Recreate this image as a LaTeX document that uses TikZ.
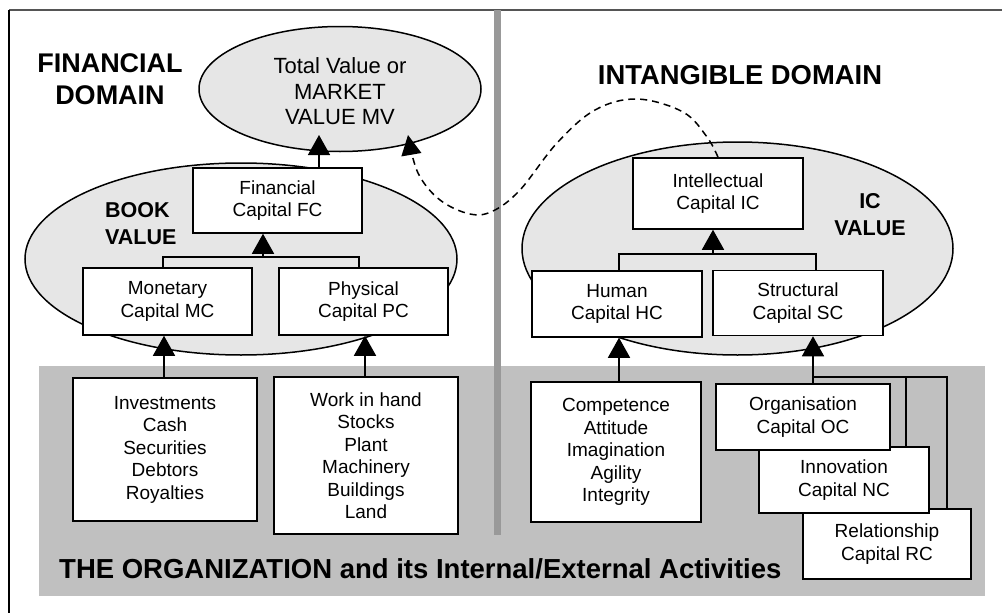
\documentclass[tikz,border=0pt]{standalone}
\usepackage{fontspec}
\setmainfont{Liberation Sans}
\usetikzlibrary{arrows.meta,shapes.geometric}
\definecolor{ovalgray}{HTML}{E6E6E6}
\definecolor{bandgray}{HTML}{C0C0C0}
\definecolor{divgray}{HTML}{999999}
\definecolor{framegray}{HTML}{555555}
\begin{document}
\begin{tikzpicture}[x=1pt,y=-1pt,
 box/.style={draw, line width=1.5pt, fill=white, inner sep=0pt, align=center, font=\fontsize{19}{22.5}\selectfont},
 oval/.style={ellipse, draw, line width=1.5pt, fill=ovalgray, inner sep=0pt},
 conn/.style={line width=1.5pt},
 arr/.style={line width=1.5pt, -{Triangle[width=22pt,length=20pt]}},
 title/.style={font=\fontsize{27}{32}\bfseries\selectfont, align=center, inner sep=0pt},
 sub/.style={font=\fontsize{21.5}{27}\bfseries\selectfont, inner sep=0pt}]
\useasboundingbox (0,0) rectangle (1002,613);
\fill[white] (0,0) rectangle (1002,613);
% frame
\coordinate (fTL) at (9,10); \coordinate (fTR) at (1002,10); \coordinate (fBL) at (9,613);
\draw[line width=2pt, framegray] (fTL) -- (fTR);
\draw[line width=2pt, black] (fTL) -- (fBL);
% band
\node[fill=bandgray, minimum width=946pt, minimum height=230pt, inner sep=0pt] (band) at (512,481) {};
% divider
\coordinate (dTop) at (497,10); \coordinate (dBot) at (497,535);
\draw[line width=7pt, divgray] (dTop) -- (dBot);
% ovals
\node[oval, minimum width=282pt, minimum height=125pt] (MV) at (340,89) {};
\node[oval, minimum width=432pt, minimum height=192pt] (BV) at (241,259) {};
\node[oval, minimum width=431pt, minimum height=213pt] (ICV) at (737.5,248.5) {};
\node[align=center, inner sep=0pt, font=\fontsize{22}{25.5}\selectfont] (mvtext) at (340,91.3) {Total Value or\\MARKET\\VALUE MV};
% titles
\node[title] (fd) at (110,79) {FINANCIAL\\DOMAIN};
\node[title, font=\fontsize{27.4}{32}\bfseries\selectfont] (id) at (740,75) {INTANGIBLE DOMAIN};
\node[sub, align=left, anchor=west] (bvl) at (105,223.5) {BOOK\\VALUE};
\node[sub, align=center] (icvl) at (870,215) {IC\\VALUE};
\node[font=\fontsize{27.5}{32}\bfseries\selectfont, anchor=base west, inner sep=0pt] (orgl) at (59,578) {THE ORGANIZATION and its Internal/External Activities};
% boxes
\node[box, minimum width=169pt, minimum height=65pt] (FC) at (277.5,200.5) {Financial\\Capital FC};
\node[box, minimum width=169pt, minimum height=67pt] (MC) at (167.5,301.5) {Monetary\\Capital MC};
\node[box, minimum width=169pt, minimum height=67pt] (PC) at (363.5,301.5) {Physical\\Capital PC};
\node[box, minimum width=184pt, minimum height=143pt] (Inv) at (165,449.5) {Investments\\Cash\\Securities\\Debtors\\Royalties};
\node[box, minimum width=184pt, minimum height=157pt] (Work) at (366,455.5) {Work in hand\\Stocks\\Plant\\Machinery\\Buildings\\Land};
\node[box, minimum width=170pt, minimum height=71pt] (IC) at (718,193.5) {Intellectual\\Capital IC};
\node[box, minimum width=170pt, minimum height=66pt] (HC) at (617,304) {Human\\Capital HC};
\node[box, minimum width=170pt, minimum height=65pt] (SC) at (798,303) {Structural\\Capital SC};
\node[box, minimum width=170pt, minimum height=140pt] (Comp) at (616,452) {Competence\\Attitude\\Imagination\\Agility\\Integrity};
\node[box, minimum width=168pt, minimum height=70pt] (Rel) at (887,544) {Relationship\\Capital RC};
\node[box, minimum width=170pt, minimum height=66pt] (Inn) at (844,480) {Innovation\\Capital NC};
\node[box, minimum width=174pt, minimum height=66pt] (Org) at (803,417) {Organisation\\Capital OC};
% left tree
\coordinate (tL1) at (163,257); \coordinate (tL2) at (359,257); \coordinate (tLm) at (263,257);
\draw[conn] (MC.north -| tL1) -- (tL1) -- (tL2) -- (PC.north -| tL2);
\draw[arr] (tLm) -- (FC.south -| tLm);
\coordinate (mvin) at (319,135);
\draw[arr] (FC.north -| mvin) -- (mvin);
\coordinate (xMC) at (164,0); \coordinate (xPC) at (365,0);
\draw[arr] (Inv.north -| xMC) -- (MC.south -| xMC);
\draw[arr] (Work.north -| xPC) -- (PC.south -| xPC);
% right tree
\coordinate (tR1) at (619,254); \coordinate (tR2) at (816,254); \coordinate (tRm) at (713,254);
\draw[conn] (HC.north -| tR1) -- (tR1) -- (tR2) -- (SC.north -| tR2);
\draw[arr] (tRm) -- (IC.south -| tRm);
\coordinate (xHC) at (619,0);
\draw[arr] (Comp.north -| xHC) -- (HC.south -| xHC);
\coordinate (sJ) at (813,377); \coordinate (sJ2) at (906,377); \coordinate (sJ3) at (947,377);
\draw[conn] (Inn.north -| sJ2) -- (sJ2);
\draw[conn] (Rel.north -| sJ3) -- (sJ3) -- (sJ);
\draw[arr] (Org.north -| sJ) -- (SC.south -| sJ);
% dashed link
\coordinate (mvdash) at (408,135);
\draw[line width=1.5pt, dash pattern=on 7pt off 5pt, -{Triangle[width=20pt,length=20pt]}]
  plot[smooth, tension=0.6] coordinates {(IC.north) (707,137) (683,112) (637,99) (595,110) (557,143) (520,190) (493,211) (470,214) (440,200) (418,173) (mvdash)};
\end{tikzpicture}
\end{document}
